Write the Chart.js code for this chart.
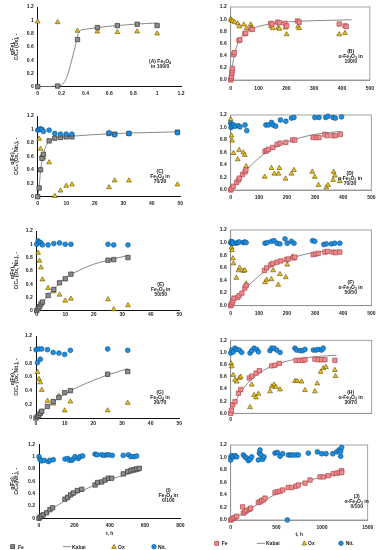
<!DOCTYPE html>
<html>
<head>
<meta charset="utf-8">
<script src="https://cdn.jsdelivr.net/npm/chart.js@4.4.0/dist/chart.umd.min.js"></script>
<style>
body { margin:0; background:#fff; width:380px; height:550px; position:relative; overflow:hidden;
       font-family:"Liberation Sans", Arial, sans-serif; }
canvas { position:absolute; }
.note { position:absolute; font-size:5px; font-weight:bold; line-height:5px; text-align:center; color:#222;
        transform:translate(-50%,-50%); white-space:nowrap; }
.note sub { font-size:3.5px; vertical-align:-1px; line-height:0; }
.lt { position:absolute; font-size:5px; font-weight:bold; line-height:6px; color:#222; white-space:nowrap; }
svg { position:absolute; overflow:visible; }
</style>
</head>
<body>

<canvas id="cA" width="190" height="100" style="left:0;top:0"></canvas>
<canvas id="cB" width="190" height="100" style="left:190px;top:0"></canvas>
<canvas id="cC" width="190" height="104" style="left:0;top:106px"></canvas>
<canvas id="cD" width="190" height="104" style="left:190px;top:106px"></canvas>
<canvas id="cE" width="190" height="104" style="left:0;top:218px"></canvas>
<canvas id="cF" width="190" height="104" style="left:190px;top:218px"></canvas>
<canvas id="cG" width="190" height="104" style="left:0;top:326px"></canvas>
<canvas id="cH" width="190" height="104" style="left:190px;top:326px"></canvas>
<canvas id="cI" width="190" height="106" style="left:0;top:434px"></canvas>
<canvas id="cJ" width="190" height="106" style="left:190px;top:434px"></canvas>

<div class="note" style="left:160px;top:63.5px">(A) Fe<sub>3</sub>O<sub>4</sub><br>in 100/0</div>
<div class="note" style="left:350.7px;top:55.7px">(B)<br>α-Fe<sub>2</sub>O<sub>3</sub> in<br>100/0</div>
<div class="note" style="left:160px;top:175.7px">(C)<br>Fe<sub>3</sub>O<sub>4</sub> in<br>70/30</div>
<div class="note" style="left:350px;top:177.7px">(D)<br>α-Fe<sub>2</sub>O<sub>3</sub> in<br>70/30</div>
<div class="note" style="left:160.7px;top:289px">(E)<br>Fe<sub>3</sub>O<sub>4</sub> in<br>50/50</div>
<div class="note" style="left:350.7px;top:286.7px">(F)<br>α-Fe<sub>2</sub>O<sub>3</sub> in<br>50/50</div>
<div class="note" style="left:160px;top:396.7px">(G)<br>Fe<sub>3</sub>O<sub>4</sub> in<br>30/70</div>
<div class="note" style="left:350.7px;top:396.7px">(H)<br>α-Fe<sub>2</sub>O<sub>3</sub> in<br>30/70</div>
<div class="note" style="left:168.3px;top:495px">(I)<br>Fe<sub>3</sub>O<sub>4</sub> in<br>0/100</div>
<div class="note" style="left:356.7px;top:501px">(J)<br>α-Fe<sub>2</sub>O<sub>3</sub> in<br>0/100</div>

<!-- legends -->
<svg style="left:0;top:0" width="380" height="550">
  <rect x="10.7" y="544.7" width="4" height="4" fill="#8c8c8c" stroke="#333" stroke-width="0.7"/>
  <line x1="63" y1="546.7" x2="71" y2="546.7" stroke="#8a8a8a" stroke-width="1"/>
  <polygon points="114,544.3 116.3,548.4 111.7,548.4" fill="#f2c40f" stroke="#5a4a10" stroke-width="0.6"/>
  <circle cx="154" cy="546.7" r="2.3" fill="#1b8fe0" stroke="#0d4d85" stroke-width="0.6"/>
  <rect x="214.7" y="541.3" width="4" height="4" fill="#ee8a8e" stroke="#b0484c" stroke-width="0.7"/>
  <line x1="256.7" y1="543.3" x2="265" y2="543.3" stroke="#8a8a8a" stroke-width="1"/>
  <polygon points="304.3,540.9 306.6,545 302,545" fill="#f2c40f" stroke="#5a4a10" stroke-width="0.6"/>
  <circle cx="341" cy="543.3" r="2.3" fill="#1b8fe0" stroke="#0d4d85" stroke-width="0.6"/>
</svg>
<div class="lt" style="left:18px;top:543.7px">Fe</div>
<div class="lt" style="left:72px;top:543.7px">Kabai</div>
<div class="lt" style="left:118px;top:543.7px">Ox</div>
<div class="lt" style="left:158px;top:543.7px">Nit.</div>
<div class="lt" style="left:221.7px;top:540.3px">Fe</div>
<div class="lt" style="left:266px;top:540.3px">Kabai</div>
<div class="lt" style="left:308px;top:540.3px">Ox</div>
<div class="lt" style="left:345.7px;top:540.3px">Nit.</div>

<script>
// (A) Fe3O4 100/0
var feA = [[0,0],[0.167,0.01],[0.333,0.71],[0.5,0.89],[0.667,0.92],[0.833,0.94],[1,0.92]];
var oxA = [[0,0.98],[0.167,0.97],[0.333,0.84],[0.5,0.83],[0.667,0.82],[0.833,0.83],[1,0.8]];
var kabA = [[0,0],[0.17,0.01],[0.21,0.04],[0.245,0.15],[0.285,0.4],[0.313,0.6],[0.34,0.8],[0.36,0.85],[0.4,0.865],[0.5,0.89],[0.6,0.91],[0.7,0.925],[0.8,0.94],[0.9,0.95],[1,0.96]];

// (B) a-Fe2O3 100/0
var feB = [[0,0],[2,0.03],[3,0.06],[4,0.11],[5,0.15],[6,0.19],[11,0.42],[13,0.45],[30,0.65],[33,0.66],[51,0.76],[54,0.77],[73,0.84],[78,0.83],[144,0.93],[149,0.92],[169,0.95],[175,0.94],[195,0.93],[201,0.89],[240,0.97],[246,0.95],[390,0.92],[411,0.89],[415,0.88]];
var oxB = [[0,1.0],[2,0.98],[7,0.97],[14,0.95],[25,0.93],[31,0.88],[47,0.91],[57,0.85],[72,0.91],[75,0.86],[145,0.88],[151,0.85],[170,0.86],[175,0.84],[196,0.86],[201,0.75],[242,0.88],[246,0.85],[390,0.75],[411,0.77]];
var kabB = [[0,0],[3,0.12],[6,0.22],[10,0.34],[20,0.53],[30,0.64],[50,0.76],[75,0.84],[100,0.88],[150,0.93],[200,0.955],[300,0.975],[435,0.99]];

// (C) Fe3O4 70/30
var feC = [[0,0],[0.5,0.13],[1,0.4],[1.5,0.57],[2,0.63],[4,0.83],[6,0.87],[8,0.88],[10,0.89],[12,0.89],[25,0.94],[27,0.93],[32,0.94],[49,0.96]];
var oxC = [[0.5,0.86],[1,0.71],[1.5,0.61],[2,0.58],[4,0.51],[6,0.01],[8,0.09],[10,0.16],[12,0.18],[25,0.14],[27,0.24],[32,0.24],[49,0.18]];
var nitC = [[0,0.99],[0.5,1.0],[1,1.01],[1.5,1.0],[2,0.97],[4,0.99],[6,0.94],[8,0.93],[10,0.93],[12,0.93],[25,0.95],[27,0.92],[32,0.94],[49,0.95]];
var kabC = [[0,0],[0.5,0.15],[1,0.38],[1.5,0.54],[2,0.64],[3,0.76],[4,0.82],[6,0.87],[8,0.885],[12,0.9],[25,0.935],[35,0.95],[49,0.965]];

// (D) a-Fe2O3 70/30
var feD = [[0,0],[3,0.02],[9,0.06],[21,0.12],[28,0.16],[31,0.19],[42,0.25],[51,0.29],[54,0.32],[122,0.62],[128,0.63],[134,0.65],[149,0.68],[165,0.73],[175,0.75],[196,0.76],[220,0.8],[228,0.8],[293,0.84],[305,0.84],[314,0.84],[335,0.89],[343,0.87],[364,0.87],[372,0.87],[390,0.89]];
var oxD = [[0,1.13],[3,0.87],[5,0.79],[10,0.59],[25,0.49],[30,0.64],[45,0.6],[50,0.56],[55,0.38],[121,0.21],[145,0.35],[155,0.26],[170,0.26],[173,0.35],[195,0.18],[216,0.26],[225,0.32],[290,0.29],[299,0.21],[312,0.08],[340,0.04],[346,0.08],[364,0.16],[366,0.29],[370,0.23],[388,0.14]];
var nitD = [[0,1.07],[1,1.0],[3,1.04],[5,1.02],[10,1.04],[16,1.02],[27,1.03],[33,1.01],[51,1.04],[57,0.95],[125,1.04],[134,1.04],[145,1.08],[151,1.04],[160,1.02],[177,1.12],[196,1.1],[216,1.15],[225,1.16],[299,1.16],[314,1.16],[338,1.16],[346,1.18],[364,1.16],[372,1.15],[394,1.17]];
var kabD = [[0,0],[25,0.15],[50,0.29],[100,0.51],[150,0.66],[200,0.77],[250,0.84],[300,0.89],[350,0.92],[394,0.94]];

// (E) Fe3O4 50/50
var feE = [[0,0],[0.5,0.03],[1,0.06],[1.5,0.1],[2,0.13],[4,0.23],[6,0.32],[8,0.42],[10,0.48],[12,0.55],[25,0.76],[27,0.77],[32,0.8]];
var oxE = [[0.5,0.87],[1,0.75],[1.5,0.65],[2,0.47],[4,0.34],[6,0.29],[8,0.24],[10,0.15],[12,0.18],[25,0.17],[27,0.02],[32,0.08]];
var nitE = [[0,1.0],[0.5,1.05],[1,1.03],[1.5,1.02],[2,0.99],[4,0.99],[6,1.01],[8,1.02],[10,1.0],[12,1.0],[25,1.0],[27,0.99],[32,0.99]];
var kabE = [[0,0],[2,0.12],[5,0.28],[10,0.49],[15,0.61],[20,0.7],[25,0.76],[32,0.83]];

// (F) a-Fe2O3 50/50
var feF = [[0,0],[2,0.02],[5,0.05],[8,0.08],[12,0.12],[25,0.13],[30,0.16],[40,0.2],[50,0.28],[55,0.32],[120,0.56],[128,0.6],[143,0.65],[150,0.67],[165,0.69],[178,0.71],[198,0.73],[204,0.74],[222,0.76],[228,0.77],[293,0.81],[302,0.82],[311,0.83],[335,0.85],[345,0.86],[364,0.85],[372,0.84],[388,0.85]];
var oxF = [[0,1.0],[3,0.92],[5,0.88],[8,0.75],[10,0.67],[20,0.44],[28,0.56],[32,0.6],[45,0.55],[50,0.56],[55,0.35],[122,0.37],[128,0.41],[145,0.42],[151,0.56],[169,0.33],[175,0.5],[196,0.45],[201,0.65],[220,0.78],[225,0.75]];
var nitF = [[0,1.0],[2,1.02],[4,0.99],[6,1.01],[9,0.99],[20,0.99],[25,1.0],[30,1.01],[45,1.0],[50,1.01],[55,1.0],[122,0.99],[130,1.0],[145,1.02],[154,1.03],[165,0.99],[175,0.98],[193,1.06],[201,0.99],[216,1.02],[225,0.99],[291,1.03],[299,1.02],[331,0.97],[340,0.98],[358,0.98],[370,0.99],[388,0.99]];
var kabF = [[0,0],[25,0.13],[50,0.26],[100,0.47],[150,0.63],[200,0.73],[250,0.8],[300,0.845],[390,0.885]];

// (G) Fe3O4 30/70
var feG = [[0,0],[0.5,0.02],[1,0.04],[1.5,0.07],[2,0.1],[4,0.17],[6,0.24],[8,0.3],[10,0.37],[12,0.4],[25,0.64],[32,0.68]];
var oxG = [[0.5,0.67],[1,0.57],[1.5,0.52],[2,0.41],[4,0.25],[6,0.21],[8,0.32],[10,0.11],[12,0.24],[25,0.11],[32,0.22]];
var nitG = [[0,1.0],[0.5,0.81],[1,1.01],[1.5,0.86],[2,1.01],[4,1.0],[6,0.96],[8,0.95],[10,0.93],[12,0.99],[25,1.01],[32,0.99]];
var kabG = [[0,0],[2,0.09],[5,0.2],[10,0.35],[15,0.46],[20,0.55],[25,0.63],[32,0.72]];

// (H) a-Fe2O3 30/70
var feH = [[0,0],[5,0.05],[15,0.14],[33,0.19],[59,0.33],[77,0.39],[143,0.58],[161,0.61],[194,0.66],[219,0.7],[314,0.78],[339,0.79],[372,0.82],[500,0.87],[526,0.87],[551,0.87],[569,0.88],[645,0.89],[671,0.88],[696,0.88],[722,0.88],[798,0.87]];
var oxH = [[3,0.82],[8,0.77],[20,0.63],[33,0.55],[46,0.52],[66,0.58],[77,0.6],[148,0.1],[161,0.47],[179,0.3],[194,0.26],[212,0.32],[301,0.36],[314,0.44],[332,0.47],[347,0.43],[378,0.39],[492,0.53],[510,0.53],[543,0.52],[569,0.38],[645,0.36],[663,0.49],[689,0.68],[709,0.74],[730,0.76],[798,0.71],[803,0.61]];
var nitH = [[0,0.99],[8,1.04],[20,1.01],[33,1.07],[46,1.05],[66,1.04],[84,1.0],[148,0.99],[161,1.03],[179,1.07],[199,1.05],[212,1.01],[301,1.03],[314,1.07],[332,1.07],[352,1.04],[378,1.0],[492,1.07],[505,1.04],[531,1.03],[551,1.03],[569,1.05],[633,1.04],[653,1.04],[671,1.05],[696,1.04],[709,1.07]];
var kabH = [[0,0],[50,0.25],[100,0.42],[200,0.63],[300,0.76],[400,0.84],[500,0.89],[600,0.92],[700,0.94],[810,0.955]];

// (I) Fe3O4 0/100
var feI = [[0,0],[6,0.02],[15,0.04],[25,0.06],[43,0.09],[62,0.14],[77,0.17],[147,0.31],[162,0.34],[179,0.38],[194,0.41],[217,0.45],[242,0.47],[317,0.54],[332,0.58],[355,0.59],[374,0.62],[392,0.65],[411,0.65],[477,0.72],[502,0.76],[521,0.78],[538,0.79],[553,0.8],[568,0.81]];
var nitI = [[0,1.0],[6,0.95],[15,0.93],[30,0.94],[53,0.92],[62,0.94],[81,0.95],[147,0.96],[162,0.97],[172,0.94],[185,0.94],[194,0.96],[204,1.0],[223,0.97],[232,1.0],[247,1.01],[317,1.04],[330,1.03],[355,1.03],[368,1.02],[383,1.03],[396,1.03],[415,1.02],[477,1.02],[506,1.03],[521,1.0],[538,1.0],[553,1.01]];
var kabI = [[0,0],[100,0.2],[200,0.38],[300,0.52],[400,0.63],[500,0.71],[575,0.77]];

// (J) a-Fe2O3 0/100
var feJ = [[0,0],[11,0.01],[29,0.03],[47,0.04],[66,0.06],[131,0.21],[139,0.11],[157,0.13],[175,0.15],[204,0.17],[219,0.19],[303,0.28],[321,0.29],[339,0.31],[358,0.32],[376,0.35],[485,0.44],[511,0.45],[540,0.46],[569,0.48],[631,0.52],[668,0.52],[715,0.54],[741,0.56],[814,0.59],[869,0.64],[978,0.69],[1015,0.69],[1069,0.71],[1124,0.74],[1161,0.75],[1190,0.76],[1215,0.79],[1215,0.76]];
var nitJ = [[0,0.96],[2,1.01],[11,1.03],[29,1.01],[47,1.03],[66,1.01],[139,1.04],[157,1.01],[175,0.99],[193,0.95],[212,0.97],[230,1.01],[303,0.96],[314,1.07],[321,1.12],[332,1.04],[350,0.97],[365,1.01],[485,1.07],[511,1.08],[540,1.02],[569,1.06],[620,0],[631,1.04],[657,1.04],[679,1.04],[715,1.04],[741,1.04],[850,1.07],[949,1.09],[996,1.06],[1044,1.06],[1117,1.06],[1161,1.09],[1186,1.12],[1204,1.02],[1204,1.1],[1215,1.16]];
var kabJ = [[0,0],[100,0.08],[200,0.16],[300,0.26],[400,0.34],[500,0.42],[600,0.49],[700,0.55],[800,0.6],[900,0.65],[1000,0.69],[1100,0.72],[1230,0.77]];

var titleOx = ['α(Fe), -', 'C/C₀ (Ox), -'];
var titleOxNit = ['α(Fe), -', 'C/C₀ (Ox, Nit.), -'];
var titleNit = ['α(Fe), -', 'C/C₀(Nit.), -'];

Chart.defaults.font.family = '"Liberation Sans", Arial, sans-serif';
Chart.defaults.font.size = 5;
Chart.defaults.font.weight = 'bold';
Chart.defaults.color = '#222';

var framePlugin = {
    id: 'frame',
    beforeDatasetsDraw: function (chart, args, opts) {
        if (!opts.on) return;
        var a = chart.chartArea, ctx = chart.ctx;
        ctx.save();
        ctx.strokeStyle = '#8c8c8c';
        ctx.lineWidth = 0.8;
        ctx.strokeRect(a.left, a.top, a.right - a.left, a.bottom - a.top);
        ctx.restore();
    }
};

function pts(arr) {
    return arr.map(function (p) { return {x: p[0], y: p[1]}; });
}

function panel(id, p) {
    var right = p.right;
    var axisColor = right ? '#8c8c8c' : '#111';
    var datasets = [];
    if (p.nit) datasets.push({label: 'Nit.', data: pts(p.nit), pointStyle: 'circle', pointRadius: 2.4,
        backgroundColor: '#1b8fe0', borderColor: '#0d4d85', borderWidth: 0.6, clip: false});
    datasets.push({label: 'Fe', data: pts(p.fe), pointStyle: 'rect', pointRadius: 3.1,
        backgroundColor: right ? '#ee8a8e' : '#8c8c8c', borderColor: right ? '#b0484c' : '#333', borderWidth: 0.7, clip: false});
    if (p.ox) datasets.push({label: 'Ox', data: pts(p.ox), pointStyle: 'triangle', pointRadius: 2.8,
        backgroundColor: '#f2c40f', borderColor: '#5a4a10', borderWidth: 0.6, clip: false});
    datasets.push({label: 'Kabai', data: pts(p.kab), showLine: true, pointRadius: 0, borderColor: '#8a8a8a',
        borderWidth: 1, cubicInterpolationMode: 'monotone', fill: false});

    new Chart(document.getElementById(id), {
        type: 'scatter',
        data: {datasets: datasets},
        plugins: [framePlugin],
        options: {
            responsive: false,
            animation: false,
            layout: {padding: {top: p.padTop, right: p.padRight, left: 0, bottom: 0}},
            plugins: {legend: {display: false}, tooltip: {enabled: false}, frame: {on: right}},
            scales: {
                x: {
                    type: 'linear', min: 0, max: p.xMax,
                    grid: {display: false, drawTicks: false},
                    border: {color: axisColor, width: right ? 0.8 : 1},
                    ticks: {stepSize: p.xStep, padding: p.xPad, includeBounds: false, maxRotation: 0, autoSkip: false,
                        callback: function (v) { return String(Number(v.toFixed(2))); }},
                    afterBuildTicks: function (s) {
                        s.ticks = s.ticks.filter(function (t) {
                            var k = t.value / p.xStep;
                            return Math.abs(k - Math.round(k)) < 1e-6;
                        });
                    },
                    title: {display: !!p.xTitle, text: p.xTitle || '', padding: {top: 0, bottom: p.xTitlePad || 0}},
                    afterFit: function (s) { s.height = p.xh; }
                },
                y: {
                    min: 0, max: 1.2,
                    grid: {display: false, drawTicks: false},
                    border: {color: axisColor, width: right ? 0.8 : 1},
                    ticks: {stepSize: 0.2, padding: 4, callback: function (v) {
                        return right ? v.toFixed(1) : String(Number(v.toFixed(1)));
                    }},
                    title: {display: !!p.yTitle, text: p.yTitle || '', font: {size: 5, weight: 'bold', lineHeight: 0.85},
                        padding: {top: 10.6, bottom: 0}},
                    afterFit: function (s) { s.width = p.yw; }
                }
            }
        }
    });
}

panel('cA', {fe: feA, ox: oxA, kab: kabA, xMax: 1.2, xStep: 0.2, padTop: 6, padRight: 9, yw: 37.7, xh: 13.3, xPad: 3.5, yTitle: titleOx});
panel('cB', {right: true, fe: feB, ox: oxB, kab: kabB, xMax: 500, xStep: 100, padTop: 6, padRight: 8.3, yw: 40.7, xh: 20, xPad: 6});
panel('cC', {fe: feC, ox: oxC, nit: nitC, kab: kabC, xMax: 50, xStep: 10, padTop: 10, padRight: 9.7, yw: 37.7, xh: 13.3, xPad: 3.5, yTitle: titleOxNit});
panel('cD', {right: true, fe: feD, ox: oxD, nit: nitD, kab: kabD, xMax: 500, xStep: 100, padTop: 9, padRight: 8.3, yw: 40.7, xh: 20, xPad: 4.5});
panel('cE', {fe: feE, ox: oxE, nit: nitE, kab: kabE, xMax: 50, xStep: 10, padTop: 13, padRight: 10.7, yw: 36.7, xh: 11.3, xPad: 1, yTitle: titleOxNit});
panel('cF', {right: true, fe: feF, ox: oxF, nit: nitF, kab: kabF, xMax: 500, xStep: 100, padTop: 12, padRight: 8.3, yw: 40.7, xh: 16.3, xPad: 4.5});
panel('cG', {fe: feG, ox: oxG, nit: nitG, kab: kabG, xMax: 50, xStep: 10, padTop: 10, padRight: 10.7, yw: 36, xh: 12, xPad: 3, yTitle: titleOxNit});
panel('cH', {right: true, fe: feH, ox: oxH, nit: nitH, kab: kabH, xMax: 1080, xStep: 500, padTop: 14.3, padRight: 8.3, yw: 40.7, xh: 16.7, xPad: 3});
panel('cI', {fe: feI, nit: nitI, kab: kabI, xMax: 800, xStep: 200, padTop: 10.3, padRight: 9.7, yw: 39, xh: 21.7, xPad: 4.4, yTitle: titleNit, xTitle: 't, h', xTitlePad: 3});
panel('cJ', {right: true, fe: feJ, nit: nitJ, kab: kabJ, xMax: 1500, xStep: 500, padTop: 11, padRight: 12.3, yw: 40.7, xh: 20, xPad: 4.3, xTitle: 't, h', xTitlePad: 2});
</script>
</body>
</html>
